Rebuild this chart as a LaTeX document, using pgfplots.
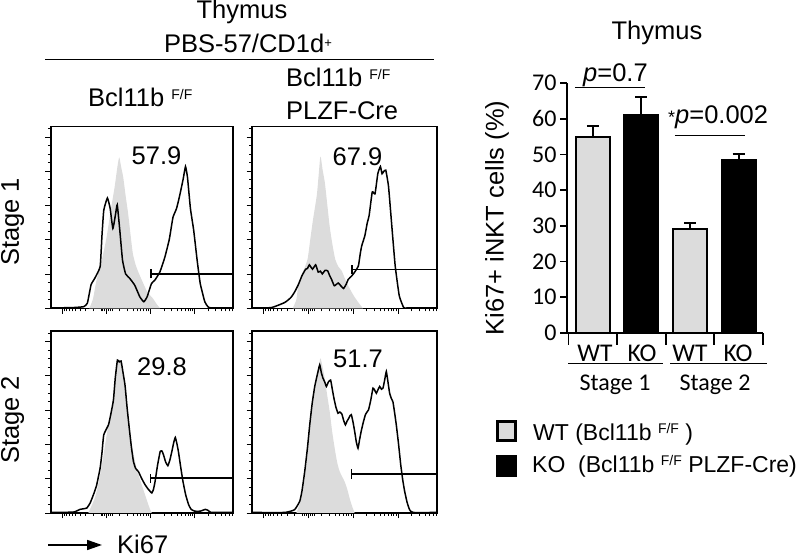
\documentclass[border=0pt]{standalone}
\usepackage{fontspec}
\setmainfont{Liberation Sans}
\newfontfamily\calibri{Carlito}
\usepackage{pgfplots}
\pgfplotsset{compat=1.18}
\usetikzlibrary{arrows.meta}
\definecolor{hgray}{RGB}{220,220,220}
\definecolor{bgray}{RGB}{220,220,220}
\newcommand\fA{\fontsize{25.5}{28}\selectfont}
\newcommand\fL{\fontsize{23}{26}\selectfont}
\newcommand\fC{\calibri\fontsize{24}{26}\selectfont}
\newcommand\fW{\calibri\fontsize{25.5}{26}\selectfont}
\newcommand\sups[1]{\raisebox{7.4pt}{\fontsize{14}{14}\selectfont #1}}
\pgfplotsset{hist/.style={
 anchor=south west, scale only axis, width=182pt, height=182pt,
 xmin=0,xmax=100,ymin=0,ymax=100,
 axis line style={line width=1.3pt},
 tick align=outside, xtick pos=bottom, ytick pos=left,
 xtick={6.4,30.5,54.8,79},
 minor xtick={7.41,8.65,10.05,11.67,13.58,15.93,18.95,23.2,27.5,28.5,29.3,31.7,32.5,33.5,37.8,42.05,45.07,47.42,49.33,50.95,52.35,53.59,62.08,66.35,69.37,71.72,73.63,75.25,76.65,77.89,86.28,90.55,93.57,95.92,97.83,99.45},
 ytick={0,18.84,37.68,56.52,75.36,94.2},
 minor ytick={4.71,9.42,14.13,23.55,28.26,32.97,42.39,47.1,51.81,61.23,65.94,70.65,80.07,84.78,89.49,98.91},
 xticklabels={}, yticklabels={},
 major tick length=5.5pt, minor tick length=3pt,
 tick style={black, line width=0.9pt},
},
gfill/.style={fill=hgray, draw=none, smooth, tension=0.4},
bcurve/.style={black, line width=1.5pt, smooth, tension=0.25},
gate/.style={black, line width=1.3pt},
}
\begin{document}
\begin{tikzpicture}
\useasboundingbox (0pt,0pt) rectangle (796pt,559pt);
% headers
\node[anchor=base, font=\fA] at (242pt,540pt) {Thymus};
\node[anchor=base, font=\fA] at (248pt,506pt) {PBS-57/CD1d\raisebox{5pt}{\fontsize{13}{13}\selectfont +}};
\draw[line width=1.5pt] (45pt,499.7pt) -- (434pt,499.7pt);
\node[anchor=base west, font=\fA, inner sep=0pt] at (88pt,452pt) {Bcl11b \sups{F/F}};
\node[anchor=base west, font=\fA, inner sep=0pt] at (286pt,472pt) {Bcl11b \sups{F/F}};
\node[anchor=base west, font=\fA, inner sep=0pt] at (286pt,439pt) {PLZF-Cre};
\node[rotate=90, font=\fA] at (12.5pt,337pt) {Stage 1};
\node[rotate=90, font=\fA] at (12.5pt,139pt) {Stage 2};
\draw[line width=1.6pt, -{Triangle[length=15pt,width=10pt]}] (48pt,14pt) -- (102pt,14pt);
\node[anchor=base west, font=\fA, inner sep=0pt] at (117pt,5pt) {Ki67};

% Panel 1
\begin{axis}[hist, at={(51pt,250.5pt)}]
\addplot[gfill] coordinates {(21,0)(23,5)(25,15.5)(28,27)(30.5,39)(33,55)(35,67)(36.5,78)(37.5,83)(38.5,78)(39.7,72)(41,62)(42.4,52)(44,38)(45,30)(46.5,24)(48,20)(50.6,14)(53,9)(56,5.5)(58,2.5)(60,0)} \closedcycle;
\addplot[bcurve] coordinates {(0,0.3)(12,0.5)(18,1)(20,3)(22,13)(24,16.5)(27,23)(28,40)(29,54)(31,60.7)(32.5,55)(34,44)(35.5,52)(36.4,57)(37.8,43)(39.3,26.5)(41,19)(43.3,16.5)(46,12.8)(48.8,6.4)(51,3.7)(52.8,6.4)(55.2,13.7)(57,15.5)(59.8,20)(62.5,28)(65,38)(67,50)(69,55)(70.7,62)(72.6,71)(73.9,78)(75,72)(76.6,55)(78.4,43)(80.3,26.5)(82,13.7)(84.5,3.7)(86.3,0.9)(88,0.3)(100,0.3)};
\addplot[gate] coordinates {(55,19)(100,19)};
\addplot[gate] coordinates {(55,16.5)(55,21.5)};
\node[font=\fA] at (axis cs:58,84) {57.9};
\end{axis}

% Panel 2
\begin{axis}[hist, at={(252pt,250.5pt)}, width=185pt]
\addplot[gfill] coordinates {(22,0)(24,5)(25,12.5)(27.5,20)(30,27)(31.5,38)(33,49)(35,62)(36,73)(37,83.5)(38.2,76)(39.4,69)(40.7,57)(42,45)(43.5,35)(45,27)(46.7,23)(48.5,20.7)(50,17)(52,12.5)(55,7)(57.5,3.3)(60,0)} \closedcycle;
\addplot[bcurve] coordinates {(0,0.3)(10.5,0.5)(17.7,3.3)(21,6)(23,9)(25,13)(27,18)(29,21.6)(30,22)(31,24)(32.7,21.6)(34.4,24)(35.8,20)(37,20.5)(38,19)(39.5,21)(40.9,20.7)(42,18)(43,16)(44.5,12.5)(46.6,14)(48,12.5)(49.5,11)(51,13.5)(52,16)(54,18)(55.5,20)(57.5,23.4)(58.5,30)(59.3,34.4)(61,40)(62.3,47)(63.3,51)(65,64)(66.5,63)(68,74)(69.4,78)(70.3,74)(71,75)(72.3,76)(73.8,67)(75.6,45)(77.4,23.4)(79.6,7)(82,0.5)(84,0.3)(100,0.3)};
\addplot[gate] coordinates {(54,21.6)(100,21.6)};
\addplot[gate] coordinates {(54,19.1)(54,24.1)};
\node[font=\fA] at (axis cs:57,83.3) {67.9};
\end{axis}

% Panel 3
\begin{axis}[hist, at={(51pt,46pt)}]
\addplot[gfill] coordinates {(20.5,0)(24,8)(26,16)(28,26.5)(30.6,43)(33.4,57.6)(35,72)(36,83)(37.5,84)(38.9,82)(40.3,72)(41.7,61)(43,49)(44.4,37.5)(47,24.7)(49,18)(51,12)(53,6)(54.5,1.8)(55.4,0)} \closedcycle;
\addplot[bcurve] coordinates {(0,0.3)(12.3,0.5)(16,2)(19.6,2.7)(21.5,5.5)(23.3,10)(25,15)(27,24.7)(28,33)(29,43)(31.6,48.5)(33,55)(34.3,62)(35.3,74)(36.5,84)(37.5,83)(38.5,83.5)(39.6,77)(40.7,70)(41.8,58)(43,46.6)(44.2,36)(45.3,28.3)(46.5,24.5)(48,22.8)(49.8,19)(51.7,15.5)(53.5,13)(55.4,11)(56.3,13)(57.2,17.4)(58.5,26)(60,33.8)(61,34)(61.8,32)(63,28)(64.2,26)(65.3,29)(66.4,33.8)(67.5,39)(68.3,41.5)(69.2,38)(70,33.8)(71.3,25)(72.5,17.4)(74,10)(75.6,4.6)(77,2)(79,1)(82,1)(84.8,2)(86.2,1.5)(87.5,0.5)(89,0.3)(100,0.3)};
\addplot[gate] coordinates {(54.5,19.2)(100,19.2)};
\addplot[gate] coordinates {(54.5,16.7)(54.5,21.7)};
\node[font=\fA] at (axis cs:61,80.4) {29.8};
\end{axis}

% Panel 4
\begin{axis}[hist, at={(252pt,46pt)}, width=185pt]
\addplot[gfill] coordinates {(24,0)(26.7,8)(28,16)(29.4,26.5)(30.7,40)(32,55.8)(33.5,66)(34.8,74)(36,80)(37,85)(38.2,80)(39.3,74)(40.6,65)(42,55.8)(43.3,45)(44.7,35.6)(46,28)(47.4,22.8)(50,17.4)(51.5,13)(52.8,8)(54,4)(55.5,0)} \closedcycle;
\addplot[bcurve] coordinates {(0,0.3)(17.7,0.3)(23,1.8)(25.8,6.4)(27,12)(28.5,22.8)(30,36)(31.2,48.4)(32.5,60)(33.9,69.5)(35.3,76)(36.6,81.4)(37.5,77)(38.4,74)(39.3,72)(40.2,69.5)(41.3,72)(42.5,73)(43.4,68)(44.3,63)(45.4,58)(46.5,54.8)(47.5,55.5)(48.6,54.3)(49.5,51)(50.5,48.4)(51.4,50.5)(52.3,52)(53,53.5)(53.7,54)(54.6,50)(55.5,44.8)(56.4,39)(57.3,35.6)(58.1,40)(59,44.8)(60.2,50)(61.3,54)(62.2,55.5)(63,56.7)(64.2,62)(65.4,68.6)(66.3,67.5)(67.2,65.8)(68,67.5)(69,69.5)(70,68)(70.8,68.6)(71.7,73)(72.6,77.7)(73.5,72)(74.4,65.8)(75.3,63)(76.2,61)(77.1,55)(78,48.4)(79.2,38)(80.4,26.5)(81.5,18)(82.5,12)(83.8,6)(85.2,1.8)(87,0.3)(100,0.3)};
\addplot[gate] coordinates {(53.7,21.4)(100,21.4)};
\addplot[gate] coordinates {(53.7,18.9)(53.7,23.9)};
\node[font=\fA] at (axis cs:57.3,84.6) {51.7};
\end{axis}

% Bar chart
\begin{axis}[at={(567pt,226pt)}, anchor=south west, scale only axis, width=196pt, height=250pt,
 xmin=0.47, xmax=4.5, ymin=0, ymax=70,
 axis lines*=left, axis line style={line width=1.8pt},
 ytick={0,10,...,70}, xtick={0.5,1.5,2.5,3.5,4.5}, xticklabels={},
 tick align=outside, major tick length=7pt,
 tick style={black, line width=1.8pt},
 xtick style={/pgfplots/major tick length=12pt},
 yticklabel style={font=\fC},
 /pgf/number format/assume math mode=true,
 clip=false]
\addplot[ybar, bar width=34pt, bar shift=0pt, fill=bgray, draw=black, line width=2pt,
  error bars/.cd, y dir=plus, y explicit, error bar style={line width=2pt, black},
  error mark options={rotate=90, mark size=6pt, line width=2pt, black}]
  coordinates {(1,54.8) +- (0,3.2) (3,29.0) +- (0,1.9)};
\addplot[ybar, bar width=34pt, bar shift=0pt, fill=black, draw=black, line width=2pt,
  error bars/.cd, y dir=plus, y explicit, error bar style={line width=2pt, black},
  error mark options={rotate=90, mark size=6pt, line width=2pt, black}]
  coordinates {(2,61.0) +- (0,5.0) (4,48.4) +- (0,1.7)};
\draw[line width=1pt] (axis cs:0.634,68.8) -- (axis cs:2.07,68.8);
\draw[line width=1pt] (axis cs:2.69,55.4) -- (axis cs:4.13,55.4);
\end{axis}
\node[anchor=base, font=\fA] at (657pt,519pt) {Thymus};
\node[rotate=90, font=\fA] at (497pt,341pt) {Ki67+ iNKT cells (\%)};
\node[anchor=base, font=\fA] at (615.5pt,477pt) {\textit{p}=0.7};
\node[anchor=base west, font=\fA, inner sep=0pt] at (668pt,435pt) {{\fontsize{18}{18}\selectfont *}\textit{p}=0.002};
\node[anchor=base, font=\fW] at (595pt,197.5pt) {WT};
\node[anchor=base, font=\fW] at (642pt,197.5pt) {KO};
\node[anchor=base, font=\fW] at (690pt,197.5pt) {WT};
\node[anchor=base, font=\fW] at (738pt,197.5pt) {KO};
\draw[line width=1.5pt] (568pt,195.5pt) -- (663pt,195.5pt);
\draw[line width=1.5pt] (670pt,195.5pt) -- (767pt,195.5pt);
\node[anchor=base, font=\fC] at (615pt,168pt) {Stage 1};
\node[anchor=base, font=\fC] at (715pt,168pt) {Stage 2};
% legend
\draw[fill=bgray, line width=2.5pt] (497.5pt,118.5pt) rectangle (515.5pt,137.5pt);
\fill[black] (496pt,82pt) rectangle (517pt,104pt);
\node[anchor=base west, font=\fL, inner sep=0pt] at (533pt,118pt) {WT (Bcl11b \sups{F/F} )};
\node[anchor=base west, font=\fL, inner sep=0pt] at (532pt,86pt) {KO\ \ (Bcl11b \sups{F/F} PLZF-Cre)};
\end{tikzpicture}
\end{document}
